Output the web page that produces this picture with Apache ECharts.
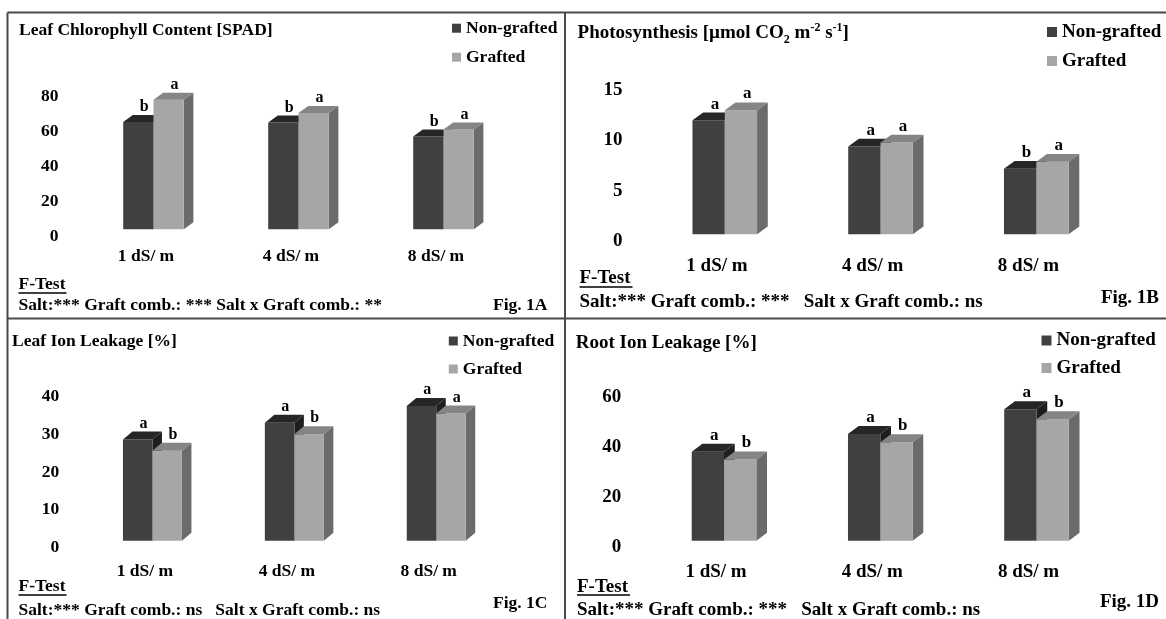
<!DOCTYPE html>
<html><head><meta charset="utf-8">
<script src="https://cdn.jsdelivr.net/npm/echarts@6.0.0/dist/echarts.min.js"></script>
<style>html,body{margin:0;padding:0;background:#fff}#c{width:1166px;height:619px}</style>
</head><body><div id="c"></div>
<script>
// ---------------- DATA ----------------
const categories = ['1 dS/ m', '4 dS/ m', '8 dS/ m'];
const seriesNames = ['Non-grafted', 'Grafted'];

// Fig. 1A  Leaf Chlorophyll Content [SPAD]
const chlNon = [61.3, 61.1, 53.1];
const chlGraft = [74.1, 66.4, 57.1];
const chlLetNon = ['b', 'b', 'b'];
const chlLetGraft = ['a', 'a', 'a'];
const chlTicks = { max: 80, interval: 20 };

// Fig. 1B  Photosynthesis
const phoNon = [11.3, 8.7, 6.5];
const phoGraft = [12.3, 9.1, 7.2];
const phoLetNon = ['a', 'a', 'b'];
const phoLetGraft = ['a', 'a', 'a'];
const phoTicks = { max: 15, interval: 5 };

// Fig. 1C  Leaf Ion Leakage [%]
const leafNon = [26.9, 31.3, 35.8];
const leafGraft = [23.9, 28.3, 33.8];
const leafLetNon = ['a', 'a', 'a'];
const leafLetGraft = ['b', 'b', 'a'];
const leafTicks = { max: 40, interval: 10 };

// Fig. 1D  Root Ion Leakage [%]
const rootNon = [35.4, 42.5, 52.4];
const rootGraft = [32.4, 39.2, 48.4];
const rootLetNon = ['a', 'a', 'a'];
const rootLetGraft = ['b', 'b', 'b'];
const rootTicks = { max: 60, interval: 20 };

const titles = [
  'Leaf Chlorophyll Content [SPAD]',
  '{t|Photosynthesis [µmol CO}{sub|2}{t| m}{sup|-2}{t| s}{sup|-1}{t|]}',
  'Leaf Ion Leakage [%]',
  'Root Ion Leakage [%]'
];
const fTests = [
  'Salt:*** Graft comb.: *** Salt x Graft comb.: **',
  'Salt:*** Graft comb.: ***   Salt x Graft comb.: ns',
  'Salt:*** Graft comb.: ns   Salt x Graft comb.: ns',
  'Salt:*** Graft comb.: ***   Salt x Graft comb.: ns'
];
const figLabels = ['Fig. 1A', 'Fig. 1B', 'Fig. 1C', 'Fig. 1D'];

// ---------------- STYLE / LAYOUT ----------------
const FONT = '"Liberation Serif", "Times New Roman", serif';
const COL = {
  nonFront: '#404040', nonTop: '#262626', nonSide: '#1e1e1e',
  grFront: '#a6a6a6', grTop: '#858585', grSide: '#6b6b6b',
  border: '#4a4a4a', text: '#000'
};
const layouts = [
  { grid: {left: 73.5, top: 96, width: 435, height: 140}, fs: 17.5, letFs: 16, mx: 11, my: 15,
    bar: {sx: 7.5, sy: -6.7, w: 30.3, dx: 9.6, dy: 7},
    legend: {left: 452, top: 19.2, gap: 11, icon: 9},
    title: {x: 19, y: 30.7}, ft: {x: 18.5, y: 284.3, ul: 293, w: 48}, salt: {x: 18.5, y: 305}, fig: {x: 547.5, y: 305} },
  { grid: {left: 639.1, top: 90, width: 467.25, height: 151.3}, fs: 19, letFs: 17, mx: 15, my: 16.5,
    bar: {sx: 7.8, sy: -7, w: 32.3, dx: 10.7, dy: 7.7},
    legend: {left: 1047, top: 22.5, gap: 10, icon: 10},
    title: {x: 577.6, y: 33.5}, ft: {x: 579.5, y: 277.7, ul: 287, w: 53}, salt: {x: 579.5, y: 302}, fig: {x: 1159, y: 298} },
  { grid: {left: 74, top: 396.7, width: 425.7, height: 150.6}, fs: 17.5, letFs: 16, mx: 15, my: 14.8,
    bar: {sx: 7.5, sy: -6.6, w: 29.5, dx: 9.5, dy: 8},
    legend: {left: 448.8, top: 332, gap: 10, icon: 9},
    title: {x: 12, y: 341.7}, ft: {x: 18.5, y: 586.7, ul: 595, w: 48}, salt: {x: 18.5, y: 610}, fig: {x: 547.5, y: 603} },
  { grid: {left: 637.9, top: 396.7, width: 468.75, height: 150.6}, fs: 19, letFs: 17, mx: 15, my: 16.7,
    bar: {sx: 8, sy: -6.6, w: 32.3, dx: 10.7, dy: 8},
    legend: {left: 1041.5, top: 331, gap: 8.5, icon: 10},
    title: {x: 575.7, y: 343}, ft: {x: 577, y: 586.7, ul: 595, w: 53}, salt: {x: 577, y: 610}, fig: {x: 1159, y: 602} }
];

const panelData = [
  {non: chlNon, graft: chlGraft, letNon: chlLetNon, letGraft: chlLetGraft, ticks: chlTicks},
  {non: phoNon, graft: phoGraft, letNon: phoLetNon, letGraft: phoLetGraft, ticks: phoTicks},
  {non: leafNon, graft: leafGraft, letNon: leafLetNon, letGraft: leafLetGraft, ticks: leafTicks},
  {non: rootNon, graft: rootGraft, letNon: rootLetNon, letGraft: rootLetGraft, ticks: rootTicks}
];

function makeRender(L, isGraft, letters) {
  return function (params, api) {
    const i = api.value(0), v = api.value(1);
    const base = api.coord([i, 0]);
    const top = api.coord([i, v]);
    const b = L.bar;
    const cx = base[0] + b.sx;
    const x0 = isGraft ? cx : cx - b.w;
    const x1 = x0 + b.w;
    const yb = base[1] + b.sy;
    const yt = top[1] + b.sy;
    const front = isGraft ? COL.grFront : COL.nonFront;
    const topC = isGraft ? COL.grTop : COL.nonTop;
    const side = isGraft ? COL.grSide : COL.nonSide;
    return {
      type: 'group',
      children: [
        {type: 'polygon', shape: {points: [[x1, yt], [x1 + b.dx, yt - b.dy], [x1 + b.dx, yb - b.dy], [x1, yb]]}, style: {fill: side}},
        {type: 'rect', shape: {x: x0, y: yt, width: b.w, height: yb - yt}, style: {fill: front}},
        {type: 'polygon', shape: {points: [[x0, yt], [x1, yt], [x1 + b.dx, yt - b.dy], [x0 + b.dx, yt - b.dy]]}, style: {fill: topC}},
        {type: 'text', x: (x0 + x1) / 2 + b.dx * 0.6, y: yt - b.dy,
         style: {text: letters[i], fill: COL.text, fontFamily: FONT, fontWeight: 'bold', fontSize: L.letFs, align: 'center', verticalAlign: 'bottom'}}
      ]
    };
  };
}

const grids = [], xAxes = [], yAxes = [], series = [], legends = [], graphics = [];
layouts.forEach(function (L, k) {
  const P = panelData[k];
  grids.push(Object.assign({outerBoundsMode: 'none', containLabel: false}, L.grid));
  const lab = {fontFamily: FONT, fontWeight: 'bold', fontSize: L.fs, color: COL.text};
  xAxes.push({gridIndex: k, type: 'category', data: categories,
    axisLine: {show: false}, axisTick: {show: false}, splitLine: {show: false},
    axisLabel: Object.assign({margin: L.mx, interval: 0}, lab)});
  yAxes.push({gridIndex: k, type: 'value', min: 0, max: P.ticks.max, interval: P.ticks.interval,
    axisLine: {show: false}, axisTick: {show: false}, splitLine: {show: false},
    axisLabel: Object.assign({margin: L.my}, lab)});
  [[P.non, P.letNon, false, COL.nonFront], [P.graft, P.letGraft, true, COL.grFront]].forEach(function (s, j) {
    series.push({
      type: 'custom', name: seriesNames[j], xAxisIndex: k, yAxisIndex: k,
      itemStyle: {color: s[3]},
      encode: {x: 0, y: 1},
      data: s[0].map(function (v, i) { return [i, v]; }),
      renderItem: makeRender(L, s[2], s[1])
    });
  });
  legends.push({
    left: L.legend.left, top: L.legend.top, orient: 'vertical', icon: 'rect', padding: 0,
    itemWidth: L.legend.icon, itemHeight: L.legend.icon, itemGap: L.legend.gap,
    selectedMode: false,
    data: [{name: seriesNames[0], itemStyle: {color: COL.nonFront}}, {name: seriesNames[1], itemStyle: {color: COL.grFront}}],
    textStyle: {fontFamily: FONT, fontWeight: 'bold', fontSize: L.fs, color: COL.text}
  });
  // title
  if (k === 1) {
    graphics.push({type: 'text', x: L.title.x, y: L.title.y, style: {
      text: titles[k], fill: COL.text, verticalAlign: 'middle', align: 'left',
      rich: {
        t: {fontFamily: FONT, fontWeight: 'bold', fontSize: L.fs, lineHeight: 24, fill: COL.text},
        sub: {fontFamily: FONT, fontWeight: 'bold', fontSize: 12, lineHeight: 12, verticalAlign: 'bottom', fill: COL.text},
        sup: {fontFamily: FONT, fontWeight: 'bold', fontSize: 12, lineHeight: 12, verticalAlign: 'top', fill: COL.text}
      }}});
  } else {
    graphics.push({type: 'text', x: L.title.x, y: L.title.y, style: {
      text: titles[k], fill: COL.text, fontFamily: FONT, fontWeight: 'bold', fontSize: L.fs, verticalAlign: 'middle'}});
  }
  graphics.push({type: 'text', x: L.ft.x, y: L.ft.y, style: {text: 'F-Test', fill: COL.text, fontFamily: FONT, fontWeight: 'bold', fontSize: L.fs, verticalAlign: 'middle'}});
  graphics.push({type: 'line', shape: {x1: L.ft.x, y1: L.ft.ul, x2: L.ft.x + L.ft.w, y2: L.ft.ul}, style: {stroke: COL.text, lineWidth: 1.3}});
  graphics.push({type: 'text', x: L.salt.x, y: L.salt.y, style: {text: fTests[k], fill: COL.text, fontFamily: FONT, fontWeight: 'bold', fontSize: L.fs, verticalAlign: 'middle'}});
  graphics.push({type: 'text', x: L.fig.x, y: L.fig.y, style: {text: figLabels[k], fill: COL.text, fontFamily: FONT, fontWeight: 'bold', fontSize: L.fs, verticalAlign: 'middle', align: 'right'}});
});
// panel borders
[[7.5, 12.5, 1166, 12.5], [7.5, 12.5, 7.5, 619], [565, 12.5, 565, 619], [7.5, 318.5, 1166, 318.5]].forEach(function (p) {
  graphics.push({type: 'line', shape: {x1: p[0], y1: p[1], x2: p[2], y2: p[3]}, style: {stroke: COL.border, lineWidth: 2}});
});

const chart = echarts.init(document.getElementById('c'));
chart.setOption({
  backgroundColor: '#fff',
  animation: false,
  grid: grids, xAxis: xAxes, yAxis: yAxes,
  legend: legends, series: series, graphic: graphics
});
</script></body></html>
